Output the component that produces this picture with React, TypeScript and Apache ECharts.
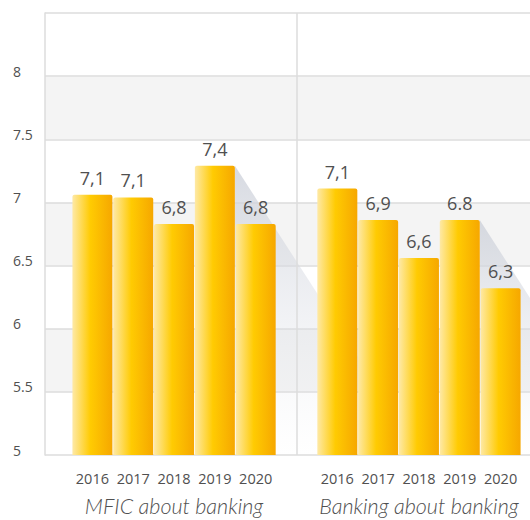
import React, { useEffect, useRef } from "react";
import * as echarts from "echarts";

const years = ["2016", "2017", "2018", "2019", "2020"];
const groups = ["MFIC about banking", "Banking about banking"];
const mficValues = [7.06, 7.04, 6.83, 7.29, 6.83];
const mficLabels = ["7,1", "7,1", "6,8", "7,4", "6,8"];
const bankingValues = [7.11, 6.86, 6.56, 6.86, 6.32];
const bankingLabels = ["7,1", "6,9", "6,6", "6.8", "6,3"];
const yMin = 5;
const yMax = 8.5;
const yStep = 0.5;
const shadowYearIndex = 3;

export default function App() {
  const ref = useRef<HTMLDivElement>(null);
  useEffect(() => {
    if (!ref.current) return;
    const chart = echarts.init(ref.current, undefined, { renderer: "svg" });

    const slots = [...years, "", ...years];
    const values: any[] = [...mficValues, "-", ...bankingValues];
    const labels = [...mficLabels, "", ...bankingLabels];
    const groupSlots = slots.map((_, i) =>
      i === 2 ? groups[0] : i === years.length + 1 + 2 ? groups[1] : ""
    );
    const shadowData = [
      [shadowYearIndex, mficValues[shadowYearIndex]],
      [years.length + 1 + shadowYearIndex, bankingValues[shadowYearIndex]],
    ];
    const barW = 40;
    const textColor = "#505050";
    const lineColor = "#dcdcdc";

    chart.setOption({
      animation: false,
      grid: [
        { left: 45, right: -2, top: 13, bottom: 65 },
        { left: 72, right: 9, top: 13, bottom: 65 },
      ],
      xAxis: [
        { type: "value", gridIndex: 0, min: 0, max: 1, show: false },
        {
          type: "category",
          gridIndex: 1,
          position: "bottom",
          data: slots,
          axisLine: { show: false },
          axisTick: { show: false },
          axisLabel: {
            interval: 0,
            margin: 16,
            color: textColor,
            fontSize: 14.5,
            fontFamily: "Open Sans",
          },
        },
        {
          type: "category",
          gridIndex: 1,
          position: "bottom",
          data: groupSlots,
          axisLine: { show: false },
          axisTick: { show: false },
          axisLabel: {
            interval: 0,
            margin: 40,
            color: textColor,
            fontSize: 21.5,
            fontStyle: "italic",
            fontWeight: 300,
            fontFamily: "Lato",
          },
        },
      ],
      yAxis: [
        {
          type: "value",
          gridIndex: 0,
          min: yMin,
          max: yMax,
          interval: yStep,
          axisLine: { show: true, lineStyle: { color: lineColor, width: 1.5 } },
          axisTick: { show: false },
          splitLine: { show: true, lineStyle: { color: lineColor, width: 1.5 } },
          splitArea: { show: true, areaStyle: { color: ["#ffffff", "#f4f4f4"] } },
          axisLabel: {
            margin: 32,
            align: "left",
            verticalAlign: "bottom",
            lineHeight: 10,
            color: textColor,
            fontSize: 14,
            fontFamily: "Open Sans",
            formatter: (v: number) => (v >= yMax ? "" : String(v)),
          },
        },
        {
          type: "value",
          gridIndex: 1,
          min: yMin,
          max: yMax,
          interval: yStep,
          show: true,
          alignTicks: false,
          axisLine: { show: false },
          axisTick: { show: false },
          axisLabel: { show: false },
          splitLine: { show: false },
          splitArea: { show: false },
        },
      ],
      series: [
        {
          type: "custom",
          xAxisIndex: 1,
          yAxisIndex: 1,
          z: 1,
          clip: false,
          silent: true,
          data: shadowData,
          renderItem: (params: any, api: any) => {
            const top = api.coord([api.value(0), api.value(1)]);
            const bottom = api.coord([api.value(0), yMin]);
            const xr = top[0] + barW / 2;
            const h = bottom[1] - top[1];
            return {
              type: "polygon",
              shape: {
                points: [
                  [xr, top[1]],
                  [xr + h / 1.55, bottom[1]],
                  [xr, bottom[1]],
                ],
              },
              style: {
                fill: new echarts.graphic.LinearGradient(0, 0, 0, 1, [
                  { offset: 0, color: "rgba(205,209,218,0.8)" },
                  { offset: 1, color: "rgba(230,232,238,0)" },
                ]),
              },
            };
          },
        },
        {
          type: "bar",
          xAxisIndex: 1,
          yAxisIndex: 1,
          z: 3,
          barWidth: barW,
          data: values,
          itemStyle: {
            borderRadius: [2, 2, 0, 0],
            color: new echarts.graphic.LinearGradient(0, 0, 1, 0, [
              { offset: 0, color: "#fee9a6" },
              { offset: 0.45, color: "#ffcb02" },
              { offset: 1, color: "#f6a700" },
            ]),
          },
          label: {
            show: true,
            position: "top",
            distance: 8,
            color: textColor,
            fontSize: 18,
            fontFamily: "Open Sans",
            formatter: (p: any) => labels[p.dataIndex],
          },
          markLine: {
            silent: true,
            symbol: "none",
            label: { show: false },
            lineStyle: { color: lineColor, width: 1.5, type: "solid" },
            data: [[{ xAxis: years.length, yAxis: yMin }, { xAxis: years.length, yAxis: yMax }]],
          },
        },
      ],
    });
    return () => chart.dispose();
  }, []);

  return (
    <div
      ref={ref}
      style={{ position: "absolute", left: 0, top: 0, width: 530, height: 520 }}
    />
  );
}
